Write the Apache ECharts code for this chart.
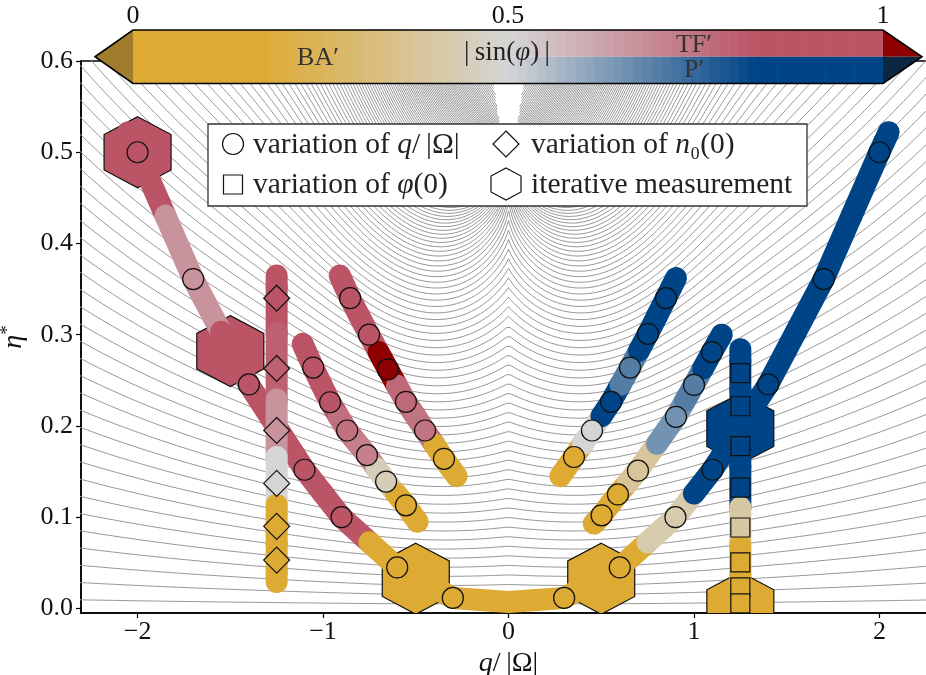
<!DOCTYPE html>
<html>
<head>
<meta charset="utf-8">
<script src="https://cdn.jsdelivr.net/npm/echarts@6/dist/echarts.min.js"></script>
<style>
html, body { margin: 0; padding: 0; background: #fff; }
#chart { width: 926px; height: 675px; }
</style>
</head>
<body>
<div id="chart"></div>
<script>
// ---------------- measured states: q/|Ω|, η*, |sin φ| and phase ----------------
// long arc (variation of q/|Ω|)
const arcQ     = [-2.05, -2.0, -1.7, -1.4, -1.1, -0.9, -0.6, -0.3, 0.0, 0.3, 0.6, 0.9, 1.1, 1.4, 1.7, 2.0, 2.05];
const arcEta   = [0.522, 0.500, 0.361, 0.2455, 0.152, 0.100, 0.045, 0.0115, 0.007, 0.0115, 0.045, 0.100, 0.152, 0.2455, 0.361, 0.500, 0.522];
const arcSin   = [0.9, 0.9, 0.67, 0.9, 0.9, 0.9, 0.1, 0.1, 0.1, 0.1, 0.1, 0.42, 0.9, 0.9, 0.9, 0.9, 0.9];
const arcPhase = ['TF','TF','TF','TF','TF','TF','BA','BA','BA','BA','BA','BA','P','P','P','P','P'];
const arcMark  = [0, 1, 1, 1, 1, 1, 1, 1, 0, 1, 1, 1, 1, 1, 1, 1, 0];

// inner left branch (variation of q/|Ω|)
const innerLQ     = [-0.91, -0.854, -0.752, -0.650, -0.553, -0.450, -0.348, -0.28];
const innerLEta   = [0.365, 0.340, 0.300, 0.262, 0.2265, 0.195, 0.164, 0.145];
const innerLSin   = [0.9, 0.9, 0.9, 1.0, 0.78, 0.75, 0.1, 0.1];
const innerLPhase = ['TF','TF','TF','TF','TF','TF','BA','BA'];
const innerLMark  = [0, 1, 1, 1, 1, 1, 1, 0];

// middle left branch (variation of q/|Ω|)
const midLQ     = [-1.11, -1.053, -0.962, -0.870, -0.763, -0.660, -0.553, -0.49];
const midLEta   = [0.29, 0.264, 0.226, 0.195, 0.168, 0.139, 0.113, 0.095];
const midLSin   = [0.9, 0.9, 0.9, 0.76, 0.72, 0.44, 0.1, 0.1];
const midLPhase = ['TF','TF','TF','TF','TF','BA','BA','BA'];
const midLMark  = [0, 1, 1, 1, 1, 1, 1, 0];

// vertical scan at q/|Ω| = -1.25 (variation of n0(0))
const densQ     = [-1.25, -1.25, -1.25, -1.25, -1.25, -1.25, -1.25, -1.25];
const densEta   = [0.365, 0.340, 0.263, 0.195, 0.137, 0.090, 0.053, 0.029];
const densSin   = [0.9, 0.9, 0.8, 0.67, 0.5, 0.1, 0.1, 0.1];
const densPhase = ['TF','TF','TF','TF','TF','BA','BA','BA'];
const densMark  = [0, 1, 1, 1, 1, 1, 1, 0];

// inner right branch (variation of q/|Ω|)
const innerRQ     = [0.28, 0.353, 0.450, 0.553, 0.655, 0.752, 0.849, 0.903];
const innerREta   = [0.145, 0.166, 0.195, 0.2265, 0.264, 0.301, 0.340, 0.362];
const innerRSin   = [0.1, 0.1, 0.5, 0.9, 0.7, 0.9, 0.9, 0.9];
const innerRPhase = ['BA','BA','P','P','P','P','P','P'];
const innerRMark  = [0, 1, 1, 1, 1, 1, 1, 0];

// middle right branch (variation of q/|Ω|)
const midRQ     = [0.46, 0.502, 0.590, 0.698, 0.903, 1.000, 1.097, 1.15];
const midREta   = [0.093, 0.102, 0.125, 0.151, 0.210, 0.245, 0.281, 0.300];
const midRSin   = [0.1, 0.1, 0.1, 0.38, 0.65, 0.7, 0.9, 0.9];
const midRPhase = ['BA','BA','BA','BA','P','P','P','P'];
const midRMark  = [0, 1, 1, 1, 1, 1, 1, 0];

// vertical scan at q/|Ω| = 1.25 (variation of φ(0))
const phiQ     = [1.25, 1.25, 1.25, 1.25, 1.25, 1.25, 1.25, 1.25, 1.25, 1.25, 1.25];
const phiEta   = [0.284, 0.258, 0.2216, 0.178, 0.1325, 0.0887, 0.0504, 0.023, 0.0055, -0.01, -0.03];
const phiSin   = [0.9, 0.9, 0.9, 0.9, 0.9, 0.4, 0.1, 0.1, 0.1, 0.1, 0.1];
const phiPhase = ['P','P','P','P','P','BA','BA','BA','BA','BA','BA'];
const phiMark  = [0, 1, 1, 1, 1, 1, 1, 1, 1, 0, 0];

// iterative measurements
const iterQ     = [-2.0, -1.5, -0.5, 0.5, 1.25, 1.25];
const iterEta   = [0.500, 0.282, 0.0326, 0.0326, 0.197, 0.001];
const iterSin   = [0.9, 0.9, 0.1, 0.1, 0.9, 0.1];
const iterPhase = ['TF','TF','BA','BA','P','BA'];

// axis ticks
const xTicks = [-2, -1, 0, 1, 2];
const yTicks = [0, 0.1, 0.2, 0.3, 0.4, 0.5, 0.6];
const barTicks = [0, 0.5, 1];

// ---------------- colour scale of |sin φ| ----------------
const FONT = '"Liberation Serif", "DejaVu Serif", serif';
const C_BA = [221, 170, 51];
const C_MID = [213, 213, 213];
const C_TF = [187, 85, 102];
const C_P = [0, 68, 136];
const C_UNDER = '#a07c2c';
const C_TF_OVER = '#8e0000';
const C_P_OVER = '#0c2742';

function mix(a, b, t) {
  const c = a.map((v, i) => Math.round(v + (b[i] - v) * t));
  return 'rgb(' + c.join(',') + ')';
}
function sinColor(s, phase) {
  if (s >= 1) return phase === 'P' ? C_P_OVER : C_TF_OVER;
  if (phase === 'BA' || s < 0.5) {
    const t = Math.min(1, Math.max(0, (s - 0.17) / 0.33));
    return mix(C_BA, C_MID, t);
  }
  const t = Math.min(1, Math.max(0, (s - 0.5) / 0.33));
  return mix(C_MID, phase === 'P' ? C_P : C_TF, t);
}

// ---------------- background level lines of η*(q) ----------------
const LV = { a: 0.15, k: 0.5, w: 0.5, etaS: 0.48, sx: 185.5, sy: 913, tanV: 0.17, step: 0.0105, count: 150 };
function levelField(q, e) {
  const th = Math.atan2(Math.abs(q) * LV.sx, (LV.etaS - e) * LV.sy);
  return e * (1 / (1 + LV.a * q * q) + LV.k * th * Math.exp(-q * q / (2 * LV.w * LV.w)));
}
// each level line is split into its visible pieces
function levelLines() {
  const pieces = [];
  for (let j = 0; j < LV.count; j++) {
    const c = LV.step * (j + 0.5);
    let cur = [];
    for (let i = 0; i <= 470; i++) {
      const q = -2.35 + i * 0.01;
      let ok = levelField(q, 2) >= c;
      let e = 0;
      if (ok) {
        let lo = 0, hi = 2;
        for (let it = 0; it < 40; it++) {
          const m = 0.5 * (lo + hi);
          if (levelField(q, m) < c) lo = m; else hi = m;
        }
        e = 0.5 * (lo + hi);
        if (e > LV.etaS && Math.abs(q) * LV.sx < LV.tanV * (e - LV.etaS) * LV.sy) ok = false;
        if (e > 0.75) ok = false;
      }
      if (ok) cur.push([q, e]);
      else { if (cur.length > 1) pieces.push(cur); cur = []; }
    }
    if (cur.length > 1) pieces.push(cur);
  }
  return pieces.map(p => ({
    type: 'line', data: p, showSymbol: false, silent: true, z: 1, animation: false, clip: true,
    lineStyle: { color: '#969696', width: 1 }
  }));
}

// ---------------- series builders ----------------
const BAND_W = 22;
function midPt(a, b) { return [(a[0] + b[0]) / 2, (a[1] + b[1]) / 2]; }

function bandSeries(qs, es, ss, ps) {
  return {
    type: 'custom', coordinateSystem: 'cartesian2d', clip: true, silent: true, z: 3,
    animation: false,
    data: qs.map((q, i) => [q, es[i]]),
    encode: { x: 0, y: 1 },
    renderItem(params, api) {
      const i = params.dataIndex, n = qs.length;
      const c = api.coord([qs[i], es[i]]);
      const a = i > 0 ? midPt(api.coord([qs[i - 1], es[i - 1]]), c) : c;
      const b = i < n - 1 ? midPt(c, api.coord([qs[i + 1], es[i + 1]])) : c;
      return {
        type: 'polyline',
        shape: { points: [a, c, b] },
        style: { stroke: sinColor(ss[i], ps[i]), lineWidth: BAND_W, lineCap: 'round', lineJoin: 'round', fill: null }
      };
    }
  };
}

function markerData(qs, es, ss, ps, mk) {
  const d = [];
  qs.forEach((q, i) => {
    if (mk[i]) d.push({ value: [q, es[i]], itemStyle: { color: sinColor(ss[i], ps[i]) } });
  });
  return d;
}
function markerSeries(symbol, size, data) {
  return {
    type: 'scatter', symbol, symbolSize: size, z: 5, silent: true, animation: false,
    itemStyle: { borderColor: '#111', borderWidth: 1.2, opacity: 1 },
    data
  };
}

const HEX_W = 67, HEX_H = 71;
const hexSeries = {
  type: 'custom', coordinateSystem: 'cartesian2d', clip: true, silent: true, z: 2, animation: false,
  data: iterQ.map((q, i) => [q, iterEta[i]]),
  encode: { x: 0, y: 1 },
  renderItem(params, api) {
    const i = params.dataIndex;
    const c = api.coord([iterQ[i], iterEta[i]]);
    const w = HEX_W / 2, h = HEX_H / 2;
    const pts = [[c[0], c[1] - h], [c[0] + w, c[1] - h / 2], [c[0] + w, c[1] + h / 2],
                 [c[0], c[1] + h], [c[0] - w, c[1] + h / 2], [c[0] - w, c[1] - h / 2]];
    return {
      type: 'polygon', shape: { points: pts },
      style: { fill: sinColor(iterSin[i], iterPhase[i]), stroke: '#111', lineWidth: 1.2 }
    };
  }
};

// ---------------- colour bar and legend (graphic) ----------------
const BAR = { x0: 133, x1: 883, y0: 30, y1: 83.5, tipL: 95, tipR: 922 };
function colourBar() {
  const els = [];
  const N = 78, ym = (BAR.y0 + BAR.y1) / 2, bw = (BAR.x1 - BAR.x0) / N;
  for (let i = 0; i < N; i++) {
    const v = (i + 0.5) / N, x = BAR.x0 + i * bw;
    if (v < 0.5) {
      els.push({ type: 'rect', z: 20, shape: { x, y: BAR.y0, width: bw + 0.6, height: BAR.y1 - BAR.y0 }, style: { fill: sinColor(v, 'BA') } });
    } else {
      els.push({ type: 'rect', z: 20, shape: { x, y: BAR.y0, width: bw + 0.6, height: ym - BAR.y0 }, style: { fill: sinColor(v, 'TF') } });
      els.push({ type: 'rect', z: 20, shape: { x, y: ym, width: bw + 0.6, height: BAR.y1 - ym }, style: { fill: sinColor(v, 'P') } });
    }
  }
  els.push({ type: 'polygon', z: 20, shape: { points: [[BAR.x0, BAR.y0], [BAR.tipL, ym], [BAR.x0, BAR.y1]] }, style: { fill: C_UNDER } });
  els.push({ type: 'polygon', z: 20, shape: { points: [[BAR.x1, BAR.y0], [BAR.tipR, ym], [BAR.x1, ym]] }, style: { fill: C_TF_OVER } });
  els.push({ type: 'polygon', z: 20, shape: { points: [[BAR.x1, ym], [BAR.tipR, ym], [BAR.x1, BAR.y1]] }, style: { fill: C_P_OVER } });
  els.push({ type: 'polygon', z: 21, shape: { points: [[BAR.tipL, ym], [BAR.x0, BAR.y0], [BAR.x1, BAR.y0], [BAR.tipR, ym], [BAR.x1, BAR.y1], [BAR.x0, BAR.y1]] },
             style: { fill: 'none', stroke: '#000', lineWidth: 1.6 } });
  barTicks.forEach(v => els.push(label(BAR.x0 + v * (BAR.x1 - BAR.x0), 16, String(v), 26, 'center', '#111')));
  els.push(label(318, 58, 'BA′', 26, 'center', '#333'));
  els.push(label(507, 53, '|\u2009sin({i|φ})\u2009|', 27, 'center', '#222'));
  els.push(label(694, 45, 'TF′', 26, 'center', '#333'));
  els.push(label(694, 70, 'P′', 26, 'center', '#333'));
  return els;
}

function label(x, y, text, size, align, color) {
  return {
    type: 'text', x, y, z: 22, silent: true,
    style: {
      text, fill: color || '#222', fontFamily: FONT, fontSize: size,
      align: align || 'left', verticalAlign: 'middle', textAlign: align || 'left', textVerticalAlign: 'middle',
      rich: {
        i: { fontStyle: 'italic', fontFamily: FONT, fontSize: size, fill: color || '#222' }
      }
    }
  };
}

function legendBox() {
  const els = [];
  els.push({ type: 'rect', z: 20, shape: { x: 208, y: 124, width: 599, height: 82 }, style: { fill: '#fff', stroke: '#333', lineWidth: 1.3 } });
  const st = { fill: '#fff', stroke: '#111', lineWidth: 1.2 };
  els.push({ type: 'circle', z: 21, shape: { cx: 233, cy: 144, r: 10.5 }, style: st });
  els.push({ type: 'rect', z: 21, shape: { x: 223.5, y: 175, width: 19, height: 19 }, style: st });
  els.push({ type: 'polygon', z: 21, shape: { points: [[506, 131], [519, 144], [506, 157], [493, 144]] }, style: st });
  els.push({ type: 'polygon', z: 21, shape: { points: [[506, 168], [521, 176], [521, 192], [506, 200], [491, 192], [491, 176]] }, style: st });
  els.push(label(253, 145, 'variation of {i|q}/\u2009|Ω|', 29.5, 'left'));
  els.push(label(253, 185, 'variation of {i|φ}(0)', 29.5, 'left'));
  els.push(label(531, 145, 'variation of {i|n}₀(0)', 29.5, 'left'));
  els.push(label(531, 185, 'iterative measurement', 29.5, 'left'));
  return els;
}

// ---------------- chart ----------------
const chart = echarts.init(document.getElementById('chart'), null, { renderer: 'canvas', width: 926, height: 675 });

const option = {
  animation: false,
  backgroundColor: '#fff',
  grid: { left: 81, right: -10, top: 61, bottom: 62, show: true, borderColor: '#000', borderWidth: 1.5,
          backgroundColor: 'transparent', containLabel: false, outerBoundsMode: 'none' },
  xAxis: {
    type: 'value', min: -2.305, max: 2.305,
    name: '{i|q}/\u2009|Ω|', nameLocation: 'middle', nameGap: 33,
    nameTextStyle: { fontFamily: FONT, fontSize: 28, color: '#111', rich: { i: { fontStyle: 'italic', fontFamily: FONT, fontSize: 28, color: '#111' } } },
    axisLine: { onZero: false, lineStyle: { color: '#000', width: 1.5 } },
    axisTick: { customValues: xTicks, length: 5, lineStyle: { color: '#000', width: 1.2 } },
    axisLabel: { customValues: xTicks, margin: 6, fontFamily: FONT, fontSize: 26, color: '#111',
                 formatter: v => (v < 0 ? '−' + Math.abs(v) : String(v)) },
    splitLine: { show: false }
  },
  yAxis: {
    type: 'value', min: -0.005, max: 0.6,
    name: '{i|η}{s|*}', nameLocation: 'middle', nameGap: 52, nameRotate: 90,
    nameTextStyle: { fontFamily: FONT, fontSize: 28, color: '#111',
      rich: { i: { fontStyle: 'italic', fontFamily: FONT, fontSize: 28, color: '#111' },
              s: { fontFamily: FONT, fontSize: 19, color: '#111', verticalAlign: 'top', lineHeight: 30 } } },
    axisLine: { onZero: false, lineStyle: { color: '#000', width: 1.5 } },
    axisTick: { customValues: yTicks, length: 5, lineStyle: { color: '#000', width: 1.2 } },
    axisLabel: { customValues: yTicks, margin: 8, fontFamily: FONT, fontSize: 26, color: '#111',
                 formatter: v => v.toFixed(1) },
    splitLine: { show: false }
  },
  graphic: { elements: colourBar().concat(legendBox()) },
  series: levelLines().concat([
    hexSeries,
    bandSeries(arcQ, arcEta, arcSin, arcPhase),
    bandSeries(innerLQ, innerLEta, innerLSin, innerLPhase),
    bandSeries(midLQ, midLEta, midLSin, midLPhase),
    bandSeries(densQ, densEta, densSin, densPhase),
    bandSeries(innerRQ, innerREta, innerRSin, innerRPhase),
    bandSeries(midRQ, midREta, midRSin, midRPhase),
    bandSeries(phiQ, phiEta, phiSin, phiPhase),
    markerSeries('circle', 21, [].concat(
      markerData(arcQ, arcEta, arcSin, arcPhase, arcMark),
      markerData(innerLQ, innerLEta, innerLSin, innerLPhase, innerLMark),
      markerData(midLQ, midLEta, midLSin, midLPhase, midLMark),
      markerData(innerRQ, innerREta, innerRSin, innerRPhase, innerRMark),
      markerData(midRQ, midREta, midRSin, midRPhase, midRMark))),
    markerSeries('diamond', 26, markerData(densQ, densEta, densSin, densPhase, densMark)),
    markerSeries('rect', 19, markerData(phiQ, phiEta, phiSin, phiPhase, phiMark))
  ])
};
chart.setOption(option);
</script>
</body>
</html>
